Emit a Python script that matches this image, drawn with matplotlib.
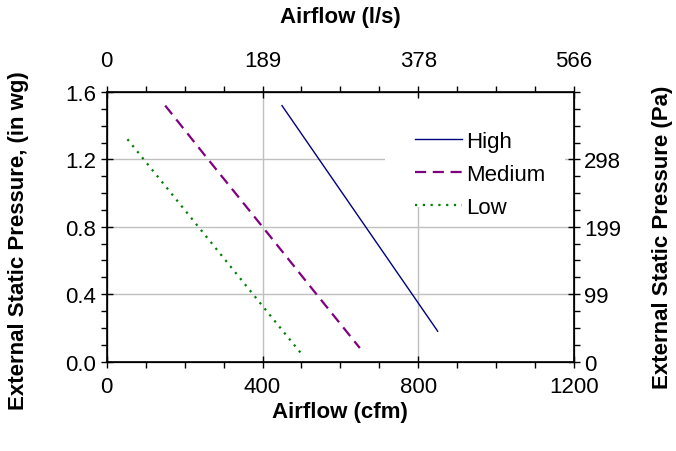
import matplotlib
matplotlib.use("Agg")
import matplotlib.pyplot as plt
from matplotlib.ticker import MultipleLocator
from matplotlib.patches import Rectangle

plt.rcParams['font.family'] = ['Liberation Sans', 'DejaVu Sans']

# ---- data ----
high_cfm = [450, 850]
high_inwg = [1.52, 0.18]
medium_cfm = [150, 250, 400, 535, 650]
medium_inwg = [1.52, 1.23, 0.80, 0.41, 0.08]
low_cfm = [53, 400, 502]
low_inwg = [1.32, 0.33, 0.04]

cfm_ticks = [0, 400, 800, 1200]
ls_labels = ['0', '189', '378', '566']
inwg_ticks = [0.0, 0.4, 0.8, 1.2, 1.6]
pa_ticks = [0.0, 0.4, 0.8, 1.2]
pa_labels = ['0', '99', '199', '298']

fs = 16

fig = plt.figure(figsize=(6.76, 4.52), dpi=100)
ax = fig.add_axes([0.158, 0.198, 0.691, 0.596])

ax.plot(high_cfm, high_inwg, color='#000080', lw=1.0, label='High', zorder=3)
ax.plot(medium_cfm, medium_inwg, color='#800080', lw=1.6, ls=(0, (5, 3)), label='Medium', zorder=3)
ax.plot(low_cfm, low_inwg, color='#008000', lw=1.6, ls=(0, (1, 2.5)), label='Low', zorder=3)

# white box behind the legend (hides the grid there)
ax.add_patch(Rectangle((0.596, 0.574), 0.385, 0.412, transform=ax.transAxes,
                       facecolor='white', edgecolor='none', zorder=1))

ax.set_xlim(0, 1200)
ax.set_ylim(0, 1.6)
ax.set_xticks(cfm_ticks)
ax.set_yticks(inwg_ticks)
ax.set_yticklabels(['%.1f' % v for v in inwg_ticks])
ax.xaxis.set_minor_locator(MultipleLocator(100))
ax.yaxis.set_minor_locator(MultipleLocator(0.1))
ax.tick_params(which='major', direction='inout', length=9, width=1, labelsize=fs)
ax.tick_params(axis='x', which='major', pad=6)
ax.tick_params(axis='y', which='major', pad=3)
ax.tick_params(which='minor', direction='out', length=4, width=1)
ax.grid(True, which='major', color='#c0c0c0', lw=1, zorder=0)
ax.set_axisbelow(True)
for s in ax.spines.values():
    s.set_linewidth(1.2)

ax.set_xlabel('Airflow (cfm)', fontsize=fs, fontweight='bold')
ax.set_ylabel('External Static Pressure, (in wg)', fontsize=fs, fontweight='bold')
ax.xaxis.set_label_coords(0.5, -0.185)
ax.xaxis.label.set_va('center')
ax.yaxis.set_label_coords(-0.19, 0.452)
ax.yaxis.label.set_va('center')

# top axis in l/s
axt = ax.twiny()
axt.set_xlim(ax.get_xlim())
axt.set_xticks(cfm_ticks)
axt.set_xticklabels(ls_labels)
axt.xaxis.set_minor_locator(MultipleLocator(100))
axt.tick_params(which='major', direction='inout', length=9, width=1, labelsize=fs, pad=11)
axt.tick_params(which='minor', direction='out', length=4, width=1)
axt.set_xlabel('Airflow (l/s)', fontsize=fs, fontweight='bold')
axt.xaxis.set_label_coords(0.5, 1.28)
axt.xaxis.label.set_va('center')

# right axis in Pa
axr = ax.twinx()
axr.set_ylim(ax.get_ylim())
axr.set_yticks(pa_ticks)
axr.set_yticklabels(pa_labels)
axr.yaxis.set_minor_locator(MultipleLocator(0.1))
axr.tick_params(which='major', direction='inout', length=9, width=1, labelsize=fs, pad=3)
axr.tick_params(which='minor', direction='out', length=4, width=1)
axr.set_ylabel('External Static Pressure (Pa)', fontsize=fs, fontweight='bold')
axr.yaxis.set_label_coords(1.19, 0.465)
axr.yaxis.label.set_va('center')

leg = ax.legend(loc='upper left', bbox_to_anchor=(0.66, 0.855), fontsize=fs,
                frameon=False, borderpad=0, borderaxespad=0,
                handlelength=2.1, handletextpad=0.2, labelspacing=0.53)

fig.savefig('out.png', dpi=100)
